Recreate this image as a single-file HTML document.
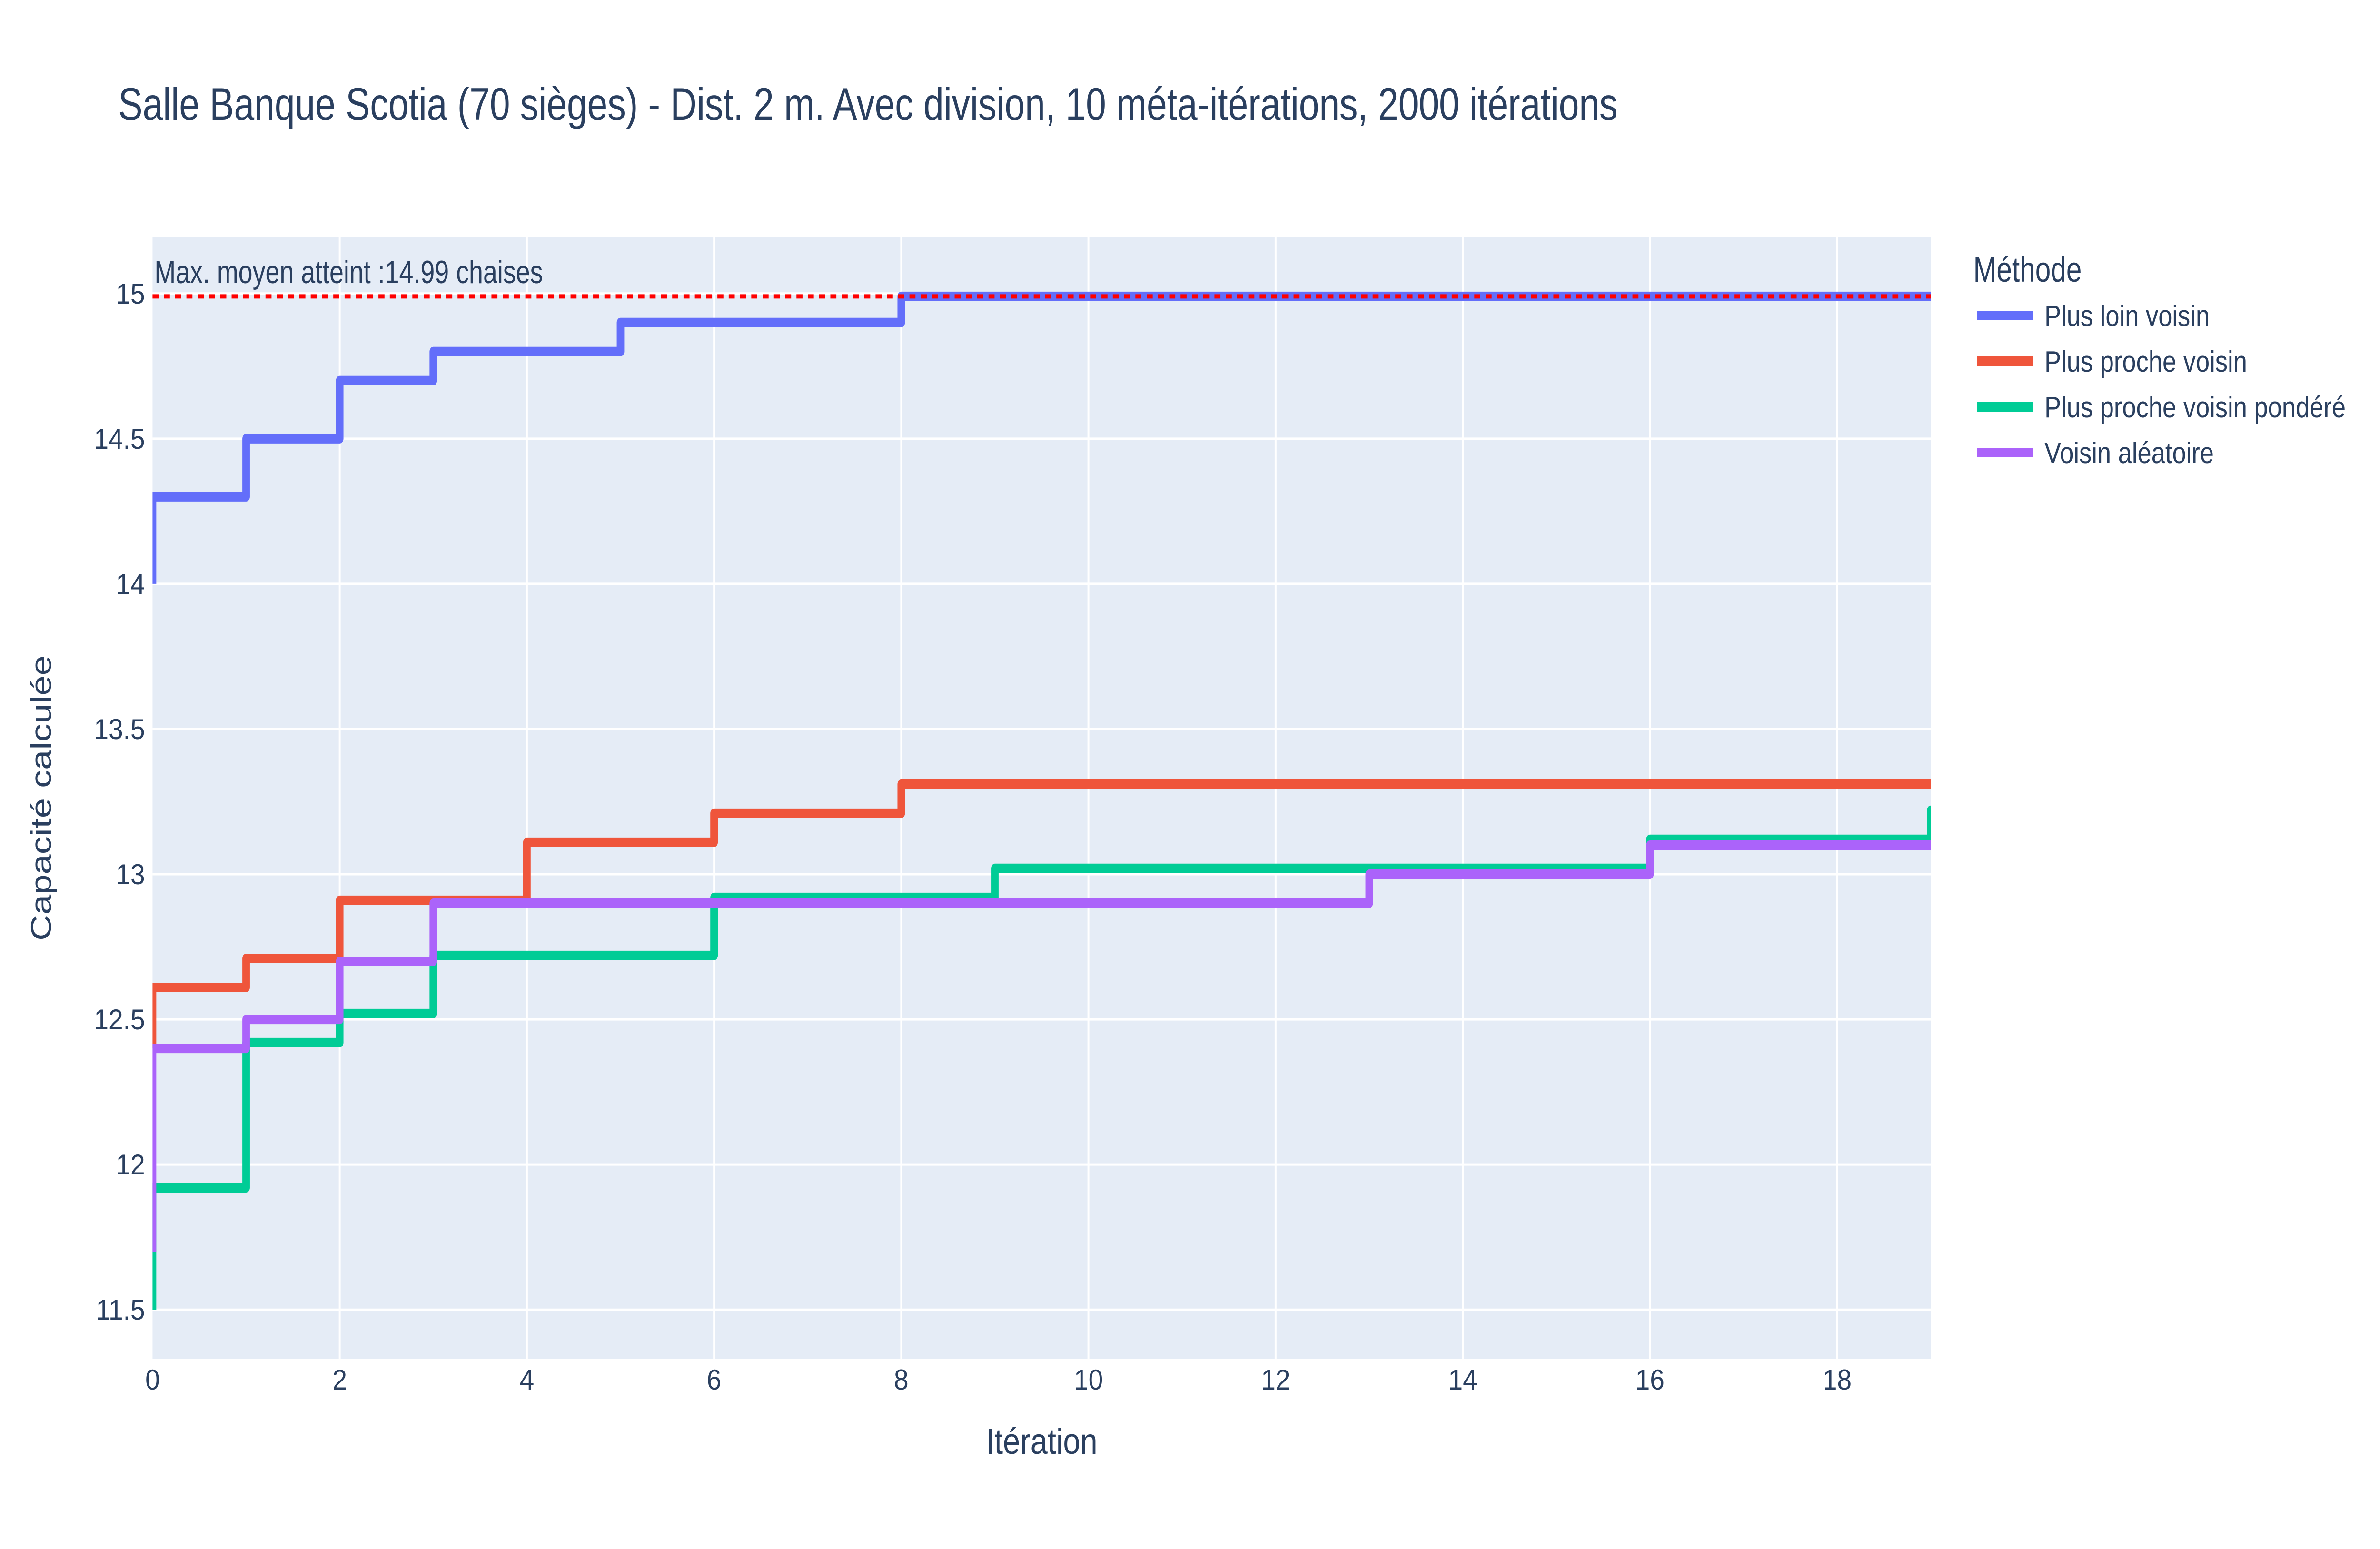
<!DOCTYPE html>
<html><head><meta charset="utf-8"><style>
html,body{margin:0;padding:0;background:#fff;width:100%;height:100%;}
svg{display:block;position:fixed;left:0;top:0;width:100vw;height:100vh;}
svg text{font-family:"Liberation Sans",sans-serif;fill:#2a3f5f;}
</style></head><body>
<svg id="chart" viewBox="0 0 6320 3255" preserveAspectRatio="none" xmlns="http://www.w3.org/2000/svg">
<rect width="6320" height="3255" fill="#fff"/>
<text x="314" y="252" font-size="97">Salle Banque Scotia (70 sièges) - Dist. 2 m. Avec division, 10 méta-itérations, 2000 itérations</text>
<rect x="405" y="499" width="4722" height="2356" fill="#E5ECF6"/>
<g id="grid"></g>
<g id="series"></g>
<g id="ticks"></g>
<text x="410" y="595" font-size="68">Max. moyen atteint :14.99 chaises</text>
<text x="2766" y="3055" font-size="76" text-anchor="middle" transform="translate(2766,0) scale(1.08,1) translate(-2766,0)">Itération</text>
<text transform="translate(135,1677) rotate(-90)" font-size="76" text-anchor="middle">Capacité calculée</text>
<g id="legend">
<text x="5240" y="592" font-size="74">Méthode</text>
</g>
</svg>
<script>
const xTicks = [0,2,4,6,8,10,12,14,16,18];
const yTicks = [11.5,12,12.5,13,13.5,14,14.5,15];
const yTickLabels = ["11.5","12","12.5","13","13.5","14","14.5","15"];
const seriesNames = ["Plus loin voisin","Plus proche voisin","Plus proche voisin pondéré","Voisin aléatoire"];
const seriesColors = ["#636efa","#EF553B","#00cc96","#ab63fa"];
const blueVals = [14,14.3,14.5,14.7,14.8,14.8,14.9,14.9,14.9,14.99,14.99,14.99,14.99,14.99,14.99,14.99,14.99,14.99,14.99,14.99];
const redVals = [12.4,12.61,12.71,12.91,12.91,13.11,13.11,13.21,13.21,13.31,13.31,13.31,13.31,13.31,13.31,13.31,13.31,13.31,13.31,13.31];
const greenVals = [11.5,11.92,12.42,12.52,12.72,12.72,12.72,12.92,12.92,12.92,13.02,13.02,13.02,13.02,13.02,13.02,13.02,13.12,13.12,13.12,13.22];
const purpleVals = [11.7,12.4,12.5,12.7,12.9,12.9,12.9,12.9,12.9,12.9,12.9,12.9,12.9,12.9,13.0,13.0,13.0,13.1,13.1,13.1,13.1];
const maxMean = [14.99];

const X0=405, X1=5127, Y0=499, Y1=2855;
const xMin=0, xMax=19, yMin=11.3315, yMax=15.193;
const sx = v => X0 + (v-xMin)/(xMax-xMin)*(X1-X0);
const sy = v => Y1 - (v-yMin)/(yMax-yMin)*(Y1-Y0);
const NS="http://www.w3.org/2000/svg";
function mk(tag, attrs, parent){const e=document.createElementNS(NS,tag);for(const k in attrs)e.setAttribute(k,attrs[k]);parent.appendChild(e);return e;}
function xs(X,k){return 'translate('+X+',0) scale('+k+',1) translate('+(-X)+',0)';}
const grid=document.getElementById('grid'), ticks=document.getElementById('ticks'), ser=document.getElementById('series'), leg=document.getElementById('legend');
xTicks.forEach(t=>{
  if(t>0){const l=mk('line',{x1:sx(t),x2:sx(t),y1:Y0,y2:Y1,stroke:'#fff','stroke-width':5},grid);
  
  }
  const tx=mk('text',{x:sx(t),y:2920,'font-size':60,'text-anchor':'middle',transform:xs(sx(t),1.16)},ticks);tx.textContent=String(t);
  
  
});
yTicks.forEach((t,i)=>{
  const l=mk('line',{x1:X0,x2:X1,y1:sy(t),y2:sy(t),stroke:'#fff','stroke-width':5},grid);
  
  
  const tx=mk('text',{x:385,y:sy(t)+21,'font-size':60,'text-anchor':'end',transform:xs(385,1.16)},ticks);tx.textContent=yTickLabels[i];
  
  
});
const cp=mk('clipPath',{id:'clip'},document.getElementById('chart'));
mk('rect',{x:X0,y:Y0,width:X1-X0,height:Y1-Y0},cp);
const allVals=[blueVals,redVals,greenVals,purpleVals];
allVals.forEach((vals,si)=>{
  let d='M'+sx(0)+','+sy(vals[0]);
  for(let i=1;i<vals.length;i++){d+=' V'+sy(vals[i])+' H'+sx(i);}
  const p=mk('path',{d:d,fill:'none',stroke:seriesColors[si],'stroke-width':20,'stroke-linejoin':'round','clip-path':'url(#clip)'},ser);
  
  
  const cy=663+si*96;
  const ll=mk('line',{x1:5250,x2:5399,y1:cy,y2:cy,stroke:seriesColors[si],'stroke-width':20},leg);
  
  
  const lt=mk('text',{x:5429,y:cy+22,'font-size':62,transform:xs(5429,1.07)},leg);lt.textContent=seriesNames[si];
  
  
});
const ml=mk('line',{x1:sx(0),x2:sx(19),y1:sy(maxMean[0]),y2:sy(maxMean[0]),stroke:'#ff0000','stroke-width':9,'stroke-dasharray':'16,14'},ser);


</script>
</body></html>
